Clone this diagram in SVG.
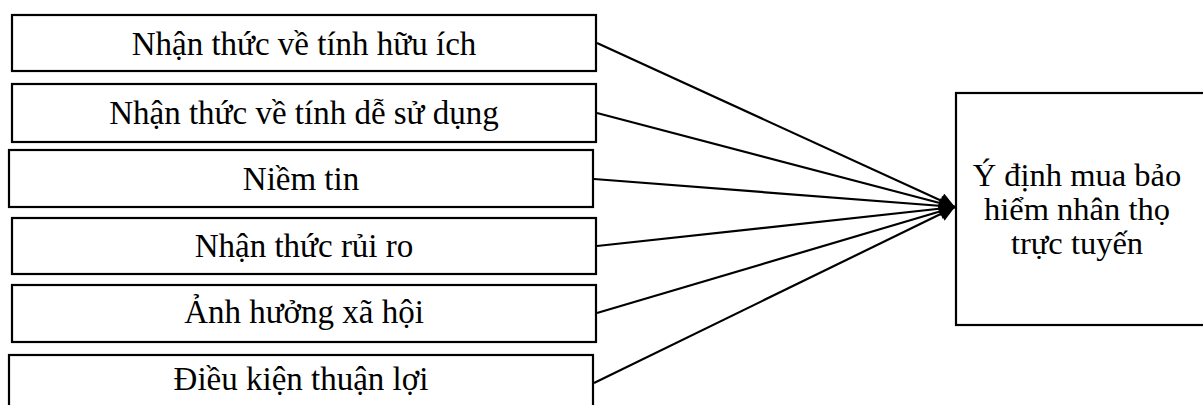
<svg xmlns="http://www.w3.org/2000/svg" width="1203" height="405" viewBox="0 0 1203 405">
  <style>
    .box { fill: #ffffff; stroke: #000000; stroke-width: 2.2; }
    .lbl { font-family: "Liberation Serif", "Times New Roman", serif; font-size: 33px; fill: #000000; text-anchor: middle; }
    .out { font-size: 32.5px; }
    .link { fill: none; stroke: #000000; stroke-width: 2.2; }
  </style>
  <defs>
    <marker id="head" viewBox="0 0 10 10" refX="10" refY="5" markerWidth="8" markerHeight="7" markerUnits="strokeWidth" orient="auto">
      <path d="M0,0 L10,5 L0,10 Z" fill="#000000"/>
    </marker>
  </defs>
  <rect width="1203" height="405" fill="#ffffff"/>

  <!-- factor boxes -->
  <g id="node-huu-ich">
    <rect class="box" x="12" y="15" width="584" height="56"/>
    <text class="lbl" x="304" y="55">Nhận thức về tính hữu ích</text>
  </g>
  <g id="node-de-su-dung">
    <rect class="box" x="12" y="84" width="584" height="58"/>
    <text class="lbl" x="304" y="124">Nhận thức về tính dễ sử dụng</text>
  </g>
  <g id="node-niem-tin">
    <rect class="box" x="9" y="150" width="584" height="57"/>
    <text class="lbl" x="301" y="190">Niềm tin</text>
  </g>
  <g id="node-rui-ro">
    <rect class="box" x="12" y="218" width="584" height="56"/>
    <text class="lbl" x="304" y="257">Nhận thức rủi ro</text>
  </g>
  <g id="node-xa-hoi">
    <rect class="box" x="12" y="285" width="584" height="57"/>
    <text class="lbl" x="304" y="323">Ảnh hưởng xã hội</text>
  </g>
  <g id="node-dieu-kien">
    <rect class="box" x="9" y="355" width="584" height="60"/>
    <text class="lbl" x="301" y="390">Điều kiện thuận lợi</text>
  </g>

  <!-- outcome box -->
  <g id="node-y-dinh">
    <rect class="box" x="956" y="93" width="262" height="232"/>
    <text class="lbl out" x="1077" y="186">Ý định mua bảo</text>
    <text class="lbl out" x="1077" y="220">hiểm nhân thọ</text>
    <text class="lbl out" x="1077" y="254">trực tuyến</text>
  </g>

  <!-- connectors -->
  <g id="connectors">
    <line class="link" x1="597" y1="43" x2="955" y2="207" marker-end="url(#head)"/>
    <line class="link" x1="597" y1="113" x2="955" y2="207" marker-end="url(#head)"/>
    <line class="link" x1="594" y1="179" x2="955" y2="207" marker-end="url(#head)"/>
    <line class="link" x1="597" y1="246" x2="955" y2="207" marker-end="url(#head)"/>
    <line class="link" x1="597" y1="313" x2="955" y2="207" marker-end="url(#head)"/>
    <line class="link" x1="594" y1="383" x2="955" y2="207" marker-end="url(#head)"/>
  </g>
</svg>
